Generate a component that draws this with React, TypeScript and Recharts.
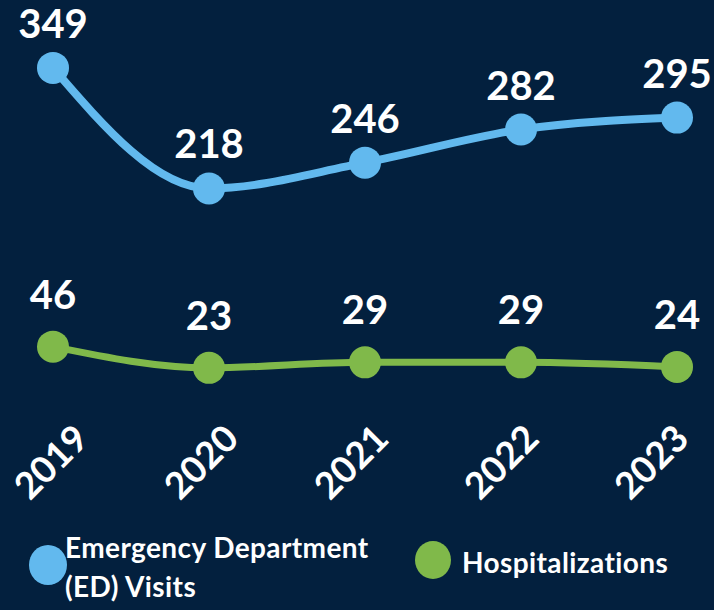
import { CartesianGrid, Legend, LabelList, Line, LineChart, XAxis, YAxis } from 'recharts';

const years = ['2019', '2020', '2021', '2022', '2023'];
const edVisits = [349, 218, 246, 282, 295];
const hospitalizations = [46, 23, 29, 29, 24];

const BG = '#03203E';
const BLUE = '#62B9EE';
const GREEN = '#80B94A';
const FONT = 'Lato, "Open Sans", sans-serif';

const data = years.map((year, i) => ({
  year,
  ed: edVisits[i],
  hosp: hospitalizations[i],
}));

// rotated year labels; drift slightly left the further right they are
const YearTick = (props: any) => {
  const { x, y, payload } = props;
  const cx = x - 3 - (x - 53) * 0.038;
  const cy = y + 72;
  return (
    <text
      x={cx}
      y={cy}
      transform={`rotate(-45 ${cx} ${cy})`}
      textAnchor="middle"
      dominantBaseline="central"
      fill="#ffffff"
      fontSize={37}
      fontWeight={700}
      fontFamily={FONT}
    >
      {payload.value}
    </text>
  );
};

const ChartLegend = () => (
  <div style={{ position: 'relative', width: 714, height: 84, fontFamily: FONT, fontWeight: 700, color: '#fff', fontSize: 28, letterSpacing: 0.4 }}>
    <div style={{ position: 'absolute', left: 29, top: 19, width: 38, height: 40, borderRadius: '50%', background: BLUE }} />
    <div style={{ position: 'absolute', left: 65, top: 2, lineHeight: '39px', whiteSpace: 'nowrap' }}>
      Emergency Department
      <br />
      (ED) Visits
    </div>
    <div style={{ position: 'absolute', left: 415, top: 15, width: 36, height: 38, borderRadius: '50%', background: GREEN }} />
    <div style={{ position: 'absolute', left: 462, top: 17, lineHeight: '39px', whiteSpace: 'nowrap' }}>
      Hospitalizations
    </div>
  </div>
);

export default function App() {
  return (
    <div style={{ position: 'fixed', left: 0, top: 0, width: 714, height: 610, background: BG }}>
      <LineChart width={714} height={610} data={data} margin={{ top: 67, right: 37, bottom: 0, left: 53 }}>
        <CartesianGrid stroke="none" />
        <XAxis
          dataKey="year"
          axisLine={false}
          tickLine={false}
          tickSize={0}
          tickMargin={0}
          height={137}
          padding={{ left: 0, right: 0 }}
          interval={0}
          tick={<YearTick />}
        />
        <YAxis hide domain={[0, 350]} />
        <Legend
          verticalAlign="bottom"
          content={<ChartLegend />}
          wrapperStyle={{ left: 0, bottom: 0, width: 714, height: 84 }}
        />
        <Line
          type="monotone"
          dataKey="ed"
          name="Emergency Department (ED) Visits"
          stroke={BLUE}
          strokeWidth={8}
          dot={{ r: 16, fill: BLUE, stroke: 'none' }}
          isAnimationActive={false}
        >
          <LabelList dataKey="ed" position="top" offset={30} fill="#fff" fontSize={40} fontWeight={700} fontFamily={FONT} />
        </Line>
        <Line
          type="monotone"
          dataKey="hosp"
          name="Hospitalizations"
          stroke={GREEN}
          strokeWidth={7}
          dot={{ r: 16, fill: GREEN, stroke: 'none' }}
          isAnimationActive={false}
        >
          <LabelList dataKey="hosp" position="top" offset={38} fill="#fff" fontSize={40} fontWeight={700} fontFamily={FONT} />
        </Line>
      </LineChart>
    </div>
  );
}
